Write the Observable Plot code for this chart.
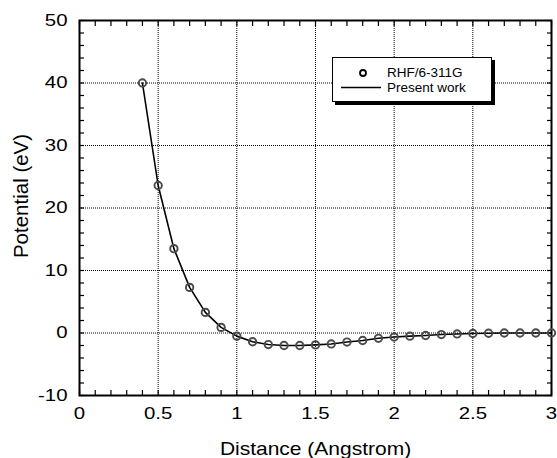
<!DOCTYPE html>
<html>
<head>
<meta charset="utf-8">
<script src="https://cdn.jsdelivr.net/npm/d3@7"></script>
<script src="https://cdn.jsdelivr.net/npm/@observablehq/plot@0.6"></script>
<style>
  body { margin: 0; background: #fff; }
  #wrap { position: relative; width: 557px; height: 458px; font-family: "Liberation Sans", Arial, sans-serif; }
  #legend { position: absolute; left: 332px; top: 57px; width: 158px; height: 43px; background: #fff;
    border: 1px solid #000; box-shadow: 3px 3px 0 #000; font-size: 13.5px; color: #000; }
  #legend .row { position: absolute; height: 16px; line-height: 16px; white-space: nowrap; }
</style>
</head>
<body>
<div id="wrap">
  <div id="chart"></div>
  <div id="legend">
    <svg width="56" height="43" style="position:absolute;left:0;top:0">
      <circle cx="30" cy="15" r="3" fill="none" stroke="#000" stroke-width="1.8"></circle>
      <line x1="8" x2="48" y1="29.5" y2="29.5" stroke="#000" stroke-width="1.5"></line>
    </svg>
    <div class="row" style="left:54px;top:7px">RHF/6-311G</div>
    <div class="row" style="left:54px;top:22px">Present work</div>
  </div>
</div>
<script>
const distance = [0.4, 0.5, 0.6, 0.7, 0.8, 0.9, 1.0, 1.1, 1.2, 1.3, 1.4, 1.5, 1.6, 1.7, 1.8, 1.9, 2.0, 2.1, 2.2, 2.3, 2.4, 2.5, 2.6, 2.7, 2.8, 2.9, 3.0];
const potential = [40.0, 23.6, 13.5, 7.3, 3.3, 0.9, -0.5, -1.4, -1.85, -2.0, -2.0, -1.9, -1.75, -1.45, -1.2, -0.85, -0.65, -0.5, -0.4, -0.25, -0.15, -0.08, -0.04, 0, 0, 0, 0];
const xMajor = [0, 0.5, 1, 1.5, 2, 2.5, 3];
const yMajor = [-10, 0, 10, 20, 30, 40, 50];
const xMinor = d3.range(0, 31).map(d => d / 10);
const yMinor = d3.range(-10, 51, 2);
const xTitle = "Distance (Angstrom)";
const yTitle = "Potential (eV)";

const data = distance.map((x, i) => ({x, y: potential[i]}));
const font = "Liberation Sans, Arial, sans-serif";

const chart = Plot.plot({
  width: 557,
  height: 458,
  marginLeft: 79,
  marginRight: 6,
  marginTop: 20,
  marginBottom: 63,
  style: {fontFamily: font, fontSize: "17px", color: "#000", background: "#fff"},
  x: {domain: [0, 3]},
  y: {domain: [-10, 50]},
  marks: [
    Plot.ruleX(xMajor.slice(1, -1), {stroke: "#000", strokeWidth: 1, strokeDasharray: "1,1"}),
    Plot.ruleY(yMajor.slice(1, -1), {stroke: "#000", strokeWidth: 1, strokeDasharray: "1,1"}),
    Plot.axisX(xMinor, {anchor: "bottom", tickSize: -5, text: null, label: null, strokeWidth: 1.2}),
    Plot.axisX(xMinor, {anchor: "top", tickSize: -5, text: null, label: null, strokeWidth: 1.2}),
    Plot.axisY(yMinor, {anchor: "left", tickSize: -5, text: null, label: null, strokeWidth: 1.2}),
    Plot.axisY(yMinor, {anchor: "right", tickSize: -5, text: null, label: null, strokeWidth: 1.2}),
    Plot.axisX(xMajor, {anchor: "bottom", tickSize: 0, tickPadding: 11, fontSize: 17, tickFormat: d => String(d), label: null}),
    Plot.axisY(yMajor, {anchor: "left", tickSize: 0, tickPadding: 12, fontSize: 17, tickFormat: d => String(d), label: null}),
    Plot.text([xTitle], {frameAnchor: "bottom", dy: 54, lineAnchor: "middle", textAnchor: "middle", fontSize: 17.5, className: "xtitle"}),
    Plot.text([yTitle], {frameAnchor: "left", dx: -58, dy: -12, rotate: -90, lineAnchor: "middle", textAnchor: "middle", fontSize: 20.5}),
    Plot.frame({stroke: "#000", strokeWidth: 2}),
    Plot.line(data, {x: "x", y: "y", stroke: "#000", strokeWidth: 1.6}),
    Plot.dot(data, {x: "x", y: "y", r: 3.7, stroke: "#4a4a4a", strokeWidth: 1.9, fill: "none"})
  ]
});

// horizontally stretch the horizontal texts, as in the reference rendering
function stretch(t, s) {
  const tr = t.getAttribute("transform") || "";
  t.setAttribute("transform", `${tr} scale(${s},1)`);
}
chart.querySelectorAll('g[aria-label="x-axis tick label"] text, g[aria-label="y-axis tick label"] text, g.xtitle text').forEach(t => stretch(t, 1.2));
document.getElementById("chart").appendChild(chart);
</script>
</body>
</html>
